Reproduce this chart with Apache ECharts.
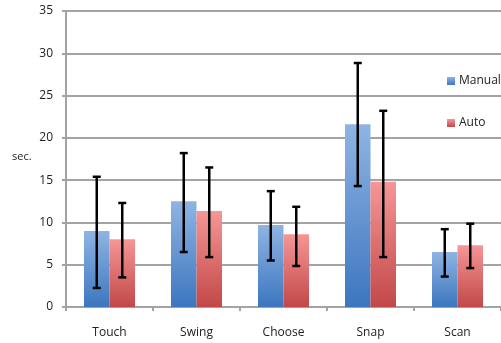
<!DOCTYPE html>
<html><head><meta charset="utf-8">
<script src="https://cdn.jsdelivr.net/npm/echarts@6/dist/echarts.min.js"></script>
<style>html,body{margin:0;padding:0;background:#fff}#c{width:501px;height:343px}</style>
</head><body><div id="c"></div>
<script>
const categories = ['Touch','Swing','Choose','Snap','Scan'];
const manualMean = [9.0, 12.5, 9.7, 21.6, 6.5];
const manualLow  = [2.25, 6.5, 5.5, 14.3, 3.6];
const manualHigh = [15.4, 18.2, 13.7, 28.85, 9.2];
const autoMean   = [8.0, 11.35, 8.6, 14.8, 7.3];
const autoLow    = [3.5, 5.9, 4.85, 5.9, 4.6];
const autoHigh   = [12.3, 16.5, 11.85, 23.2, 9.85];
const yTicks = [0,5,10,15,20,25,30,35];

const barW = 25.5;
function grad(top, bottom){
  return new echarts.graphic.LinearGradient(0,0,0,1,[{offset:0,color:top},{offset:1,color:bottom}]);
}
const blue = grad('#8fb4e3','#3c76bf');
const red = grad('#f69696','#c24848');

function errSeries(low, high, offset){
  return {
    type:'custom', z:10, silent:true,
    data: low.map((l,i)=>[i,l,high[i]]),
    encode:{x:0,y:[1,2]},
    renderItem(params, api){
      const lo = api.coord([api.value(0), api.value(1)]);
      const hi = api.coord([api.value(0), api.value(2)]);
      const x = lo[0] + offset;
      const cap = 4;
      const st = {stroke:'#000', lineWidth:2.5};
      return {type:'group', children:[
        {type:'line', shape:{x1:x,y1:lo[1],x2:x,y2:hi[1]}, style:st},
        {type:'line', shape:{x1:x-cap,y1:lo[1],x2:x+cap,y2:lo[1]}, style:st},
        {type:'line', shape:{x1:x-cap,y1:hi[1],x2:x+cap,y2:hi[1]}, style:st}
      ]};
    }
  };
}
function leg(name, color, top){
  return {
    orient:'vertical', left:447, top:top, padding:0, itemWidth:8, itemHeight:8,
    icon:'rect', textStyle:{fontSize:12, color:'#222', padding:[0,0,0,-1]},
    data:[{name:name, itemStyle:{color:color}}]
  };
}

const chart = echarts.init(document.getElementById('c'));
chart.setOption({
  animation:false,
  textStyle:{fontFamily:'"Open Sans", "DejaVu Sans", sans-serif'},
  grid:{left:66, top:11, width:440, height:296, containLabel:false},
  legend:[leg('Manual', blue, 75), leg('Auto', red, 117)],
  graphic:[{type:'text', left:12, top:151, style:{text:'sec.', fontSize:11, fill:'#222', fontFamily:'"Open Sans", sans-serif'}}],
  xAxis:{
    type:'category', data:categories,
    axisLine:{lineStyle:{color:'#a3a3a3', width:2}},
    axisTick:{show:true, length:4, lineStyle:{color:'#a3a3a3', width:2}},
    axisLabel:{fontSize:12, color:'#222', margin:20}
  },
  yAxis:{
    type:'value', min:0, max:35, interval:5,
    axisLine:{show:true, lineStyle:{color:'#a3a3a3', width:2}},
    axisTick:{show:true, length:4, lineStyle:{color:'#a3a3a3', width:2}},
    splitLine:{lineStyle:{color:'#a3a3a3', width:2}},
    axisLabel:{fontSize:12, color:'#222', margin:13, formatter:v=>yTicks.includes(v)?String(v):''}
  },
  series:[
    {name:'Manual', type:'bar', data:manualMean, barWidth:barW, barGap:'0%', itemStyle:{color:blue}},
    {name:'Auto', type:'bar', data:autoMean, barWidth:barW, barGap:'0%', itemStyle:{color:red}},
    errSeries(manualLow, manualHigh, -barW/2),
    errSeries(autoLow, autoHigh, barW/2)
  ]
});
</script></body></html>
